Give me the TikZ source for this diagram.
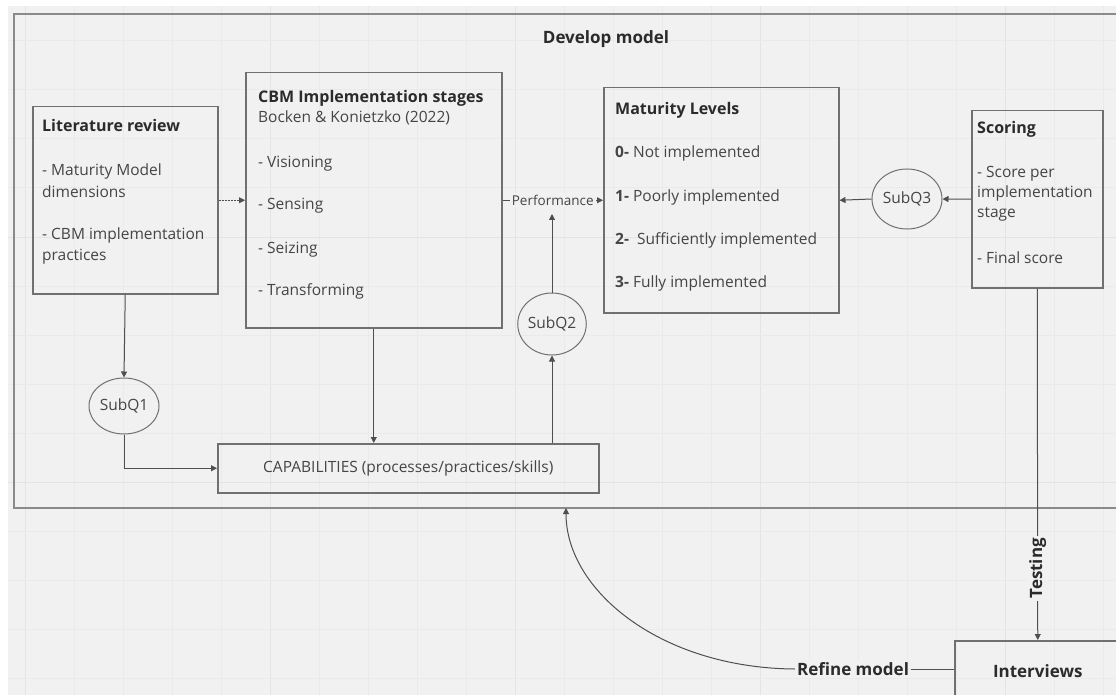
\documentclass[tikz,border=0pt]{standalone}
\usepackage{fontspec}
\setmainfont{Open Sans}
\usetikzlibrary{arrows.meta,shapes.geometric}
\definecolor{bg}{HTML}{F1F1F1}
\definecolor{gridminor}{HTML}{EAEAEA}
\definecolor{gridmajor}{HTML}{E4E4E4}
\definecolor{framec}{HTML}{8A8A8A}
\definecolor{boxc}{HTML}{707070}
\definecolor{linec}{HTML}{4F4F4F}
\definecolor{txtc}{HTML}{454545}
\definecolor{ttlc}{HTML}{2B2B2B}
\tikzset{
  box/.style={draw=boxc, line width=1.5pt, rectangle, inner sep=0pt, anchor=north west},
  txt/.style={anchor=base west, inner sep=0pt, text=txtc, font=\fontsize{15.5}{21}\selectfont},
  ttl/.style={anchor=base west, inner sep=0pt, text=ttlc, font=\bfseries\fontsize{16}{21}\selectfont},
  circ/.style={draw=boxc, line width=1pt, ellipse, inner sep=0pt, text=txtc, font=\fontsize{15.5}{21}\selectfont},
  conn/.style={draw=linec, line width=1pt, -{Triangle[length=6pt,width=6pt]}},
  plain/.style={draw=linec, line width=1pt},
  lbl/.style={inner sep=2pt, fill=bg, text=ttlc, font=\bfseries\fontsize{17}{21}\selectfont},
  perf/.style={inner sep=2pt, fill=bg, text=txtc, font=\fontsize{13.5}{16}\selectfont}
}
\begin{document}
\begin{tikzpicture}[x=1pt,y=-1pt]
\useasboundingbox (0,0) rectangle (1116,695);
\fill[white] (0,0) rectangle (1116,695);
\fill[bg] (8,6) rectangle (1116,695);
% grid
\foreach \k in {0,...,22}{
  \pgfmathtruncatemacro{\m}{mod(\k,5)}
  \ifnum\m=0
    \draw[gridmajor, line width=1pt] ({25+49*\k},6) -- ({25+49*\k},695);
  \else
    \draw[gridminor, line width=1pt] ({25+49*\k},6) -- ({25+49*\k},695);
  \fi
}
\foreach \k in {0,...,13}{
  \pgfmathtruncatemacro{\m}{mod(\k,5)}
  \ifnum\m=4
    \draw[gridmajor, line width=1pt] (8,{41+49*\k}) -- (1116,{41+49*\k});
  \else
    \draw[gridminor, line width=1pt] (8,{41+49*\k}) -- (1116,{41+49*\k});
  \fi
}
% outer frame
\node[draw=framec, line width=2pt, rectangle, inner sep=0pt, anchor=north west,
      minimum width=1120pt, minimum height=494pt] (dev) at (13,13) {};
\node[anchor=base, inner sep=0pt, text=ttlc, font=\bfseries\fontsize{17}{21}\selectfont] (devT) at (606,44) {Develop model};

% Literature review
\node[box, minimum width=185pt, minimum height=187pt] (lit) at (32,106) {};
\node[ttl] (litT) at (42,132) {Literature review};
\node[txt] (lit1) at (42,176) {- Maturity Model};
\node[txt] (lit2) at (42,197) {dimensions};
\node[txt] (lit3) at (42,239) {- CBM implementation};
\node[txt] (lit4) at (42,260) {practices};

% CBM implementation stages
\node[box, minimum width=256pt, minimum height=255pt] (cbm) at (245,72) {};
\node[ttl] (cbmT) at (258,103) {CBM Implementation stages};
\node[txt] (cbm0) at (258,123) {Bocken \& Konietzko (2022)};
\node[txt] (cbm1) at (258,168) {- Visioning};
\node[txt] (cbm2) at (258,210) {- Sensing};
\node[txt] (cbm3) at (258,253) {- Seizing};
\node[txt] (cbm4) at (258,295) {- Transforming};

% Maturity levels
\node[box, minimum width=235pt, minimum height=225pt] (mat) at (603,87) {};
\node[ttl] (matT) at (615,115) {Maturity Levels};
\node[txt] (mat0) at (615,158) {\textbf{0-} Not implemented};
\node[txt] (mat1) at (615,201) {\textbf{1-} Poorly implemented};
\node[txt] (mat2) at (615,244) {\textbf{2-}~ Sufficiently implemented};
\node[txt] (mat3) at (615,287) {\textbf{3-} Fully implemented};

% Scoring
\node[box, minimum width=131pt, minimum height=177pt] (score) at (971,110) {};
\node[ttl] (scoreT) at (977,134) {Scoring};
\node[txt] (sc1) at (977,178) {- Score per};
\node[txt] (sc2) at (977,198) {implementation};
\node[txt] (sc3) at (977,218) {stage};
\node[txt] (sc4) at (977,263) {- Final score};

% Capabilities
\node[box, minimum width=381pt, minimum height=49pt, text=txtc, font=\fontsize{15.5}{21}\selectfont] (cap) at (217,443) {CAPABILITIES (processes/practices/skills)};

% Interviews
\node[box, minimum width=166pt, minimum height=60pt, text=ttlc, font=\bfseries\fontsize{17}{21}\selectfont] (int) at (954,640) {Interviews};

% circles
\node[circ, minimum width=70pt, minimum height=56pt] (sq1) at (124,406) {SubQ1};
\node[circ, minimum width=68pt, minimum height=62pt] (sq2) at (552,324) {SubQ2};
\node[circ, minimum width=70pt, minimum height=60pt] (sq3) at (907,199) {SubQ3};

% connectors
\coordinate (perfpt) at (552,214);
\coordinate (reftip) at (566,508);
\draw[conn, dash pattern=on 2pt off 1pt, line width=0.8pt] (lit.east) -- (cbm.west);
\draw[conn] (cbm.east) -- node[perf] (perfL) {Performance} (mat.west);
\draw[conn] (sq2.north) -- (perfpt);
\draw[conn] (cap.north -| sq2.south) -- (sq2.south);
\draw[conn] (cbm.south) -- (cbm.south |- cap.north);
\draw[conn] (lit.south) -- (sq1.north);
\draw[conn] (sq1.south) |- (cap.west);
\draw[conn] (score.west) -- (sq3.east);
\draw[conn] (sq3.west) -- (mat.east);
\draw[conn] (score.south) -- node[lbl, rotate=90, pos=0.796] (testL) {Testing} (int.north);
\node[lbl] (ref) at (853,669) {Refine model};
\draw[plain] (ref.east) -- (int.west |- ref.east);
\draw[conn] (ref.west) .. controls (660,668) and (566,590) .. (reftip);
\end{tikzpicture}
\end{document}
